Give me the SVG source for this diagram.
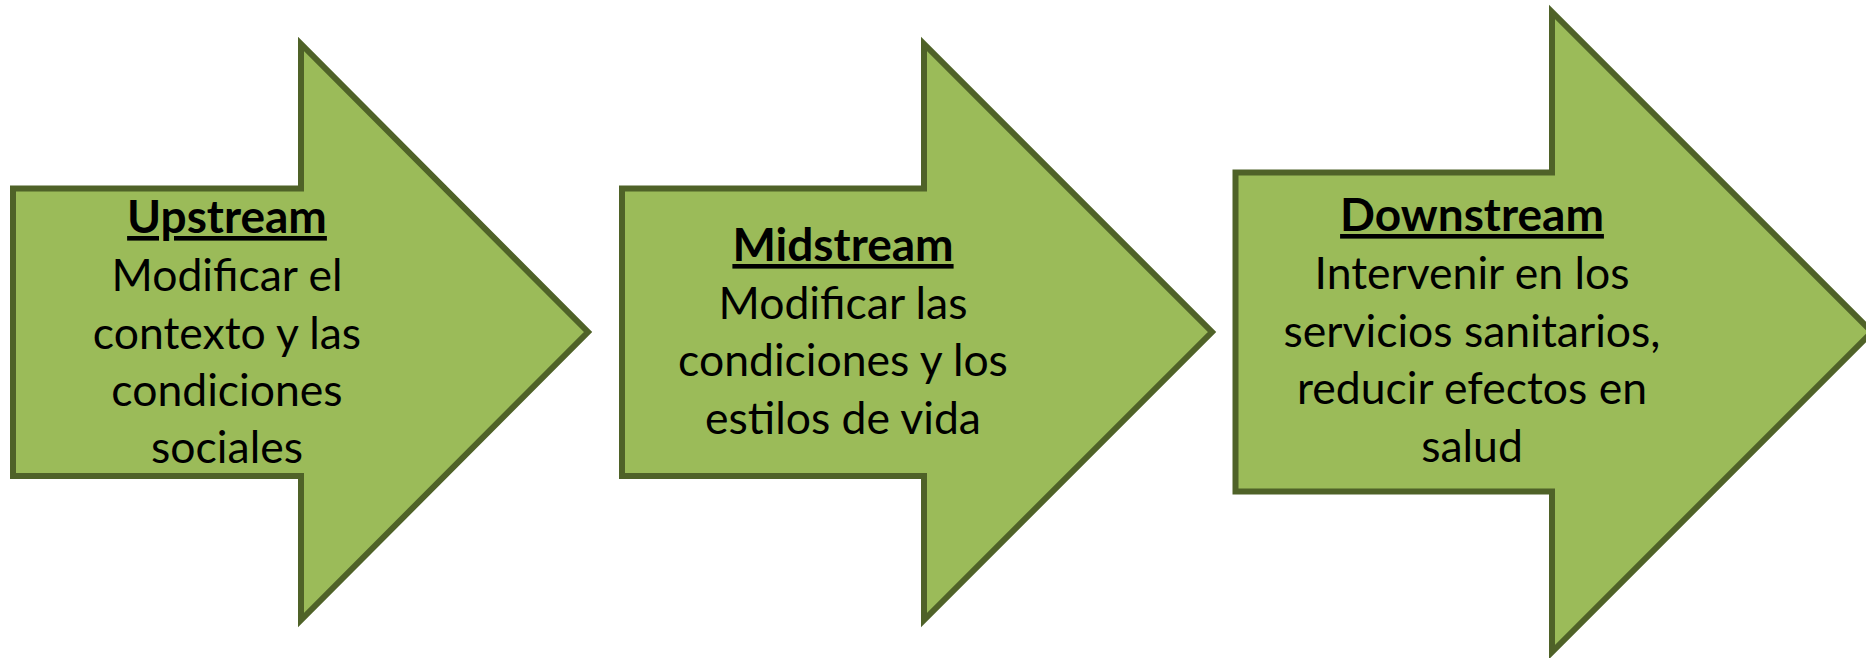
<svg xmlns="http://www.w3.org/2000/svg" width="1866" height="658" viewBox="0 0 1866 658">
<style>
.arrow{fill:#9BBB59;stroke:#4F6228;stroke-width:6;stroke-linejoin:miter;stroke-miterlimit:10}
.t{font-family:Lato,"Open Sans","Liberation Sans",sans-serif;font-size:44.5px;fill:#000;text-anchor:middle}
.h{font-size:46px;font-weight:bold;text-decoration:underline}
</style>
<rect width="1866" height="658" fill="#fff"/>
<g id="upstream">
<polygon class="arrow" points="13,188.5 301,188.5 301,44 588,332 301,620 301,476 13,476"/>
<text class="t h" x="227" y="233">Upstream</text>
<text class="t" x="227" y="291">Modificar el</text>
<text class="t" x="227" y="348.5">contexto y las</text>
<text class="t" x="227" y="406">condiciones</text>
<text class="t" x="227" y="463">sociales</text>
</g>
<g id="midstream">
<polygon class="arrow" points="622,188.5 924,188.5 924,44 1212,332 924,620 924,476 622,476"/>
<text class="t h" x="843" y="261">Midstream</text>
<text class="t" x="843" y="318.5">Modificar las</text>
<text class="t" x="843" y="376">condiciones y los</text>
<text class="t" x="843" y="434">estilos de vida</text>
</g>
<g id="downstream">
<polygon class="arrow" points="1235.5,172.5 1552,172.5 1552,12 1872,332 1552,652 1552,491.5 1235.5,491.5"/>
<text class="t h" x="1472" y="231">Downstream</text>
<text class="t" x="1472" y="289">Intervenir en los</text>
<text class="t" x="1472" y="347">servicios sanitarios,</text>
<text class="t" x="1472" y="404">reducir efectos en</text>
<text class="t" x="1472" y="462">salud</text>
</g>
<g id="connectors"></g>
</svg>
